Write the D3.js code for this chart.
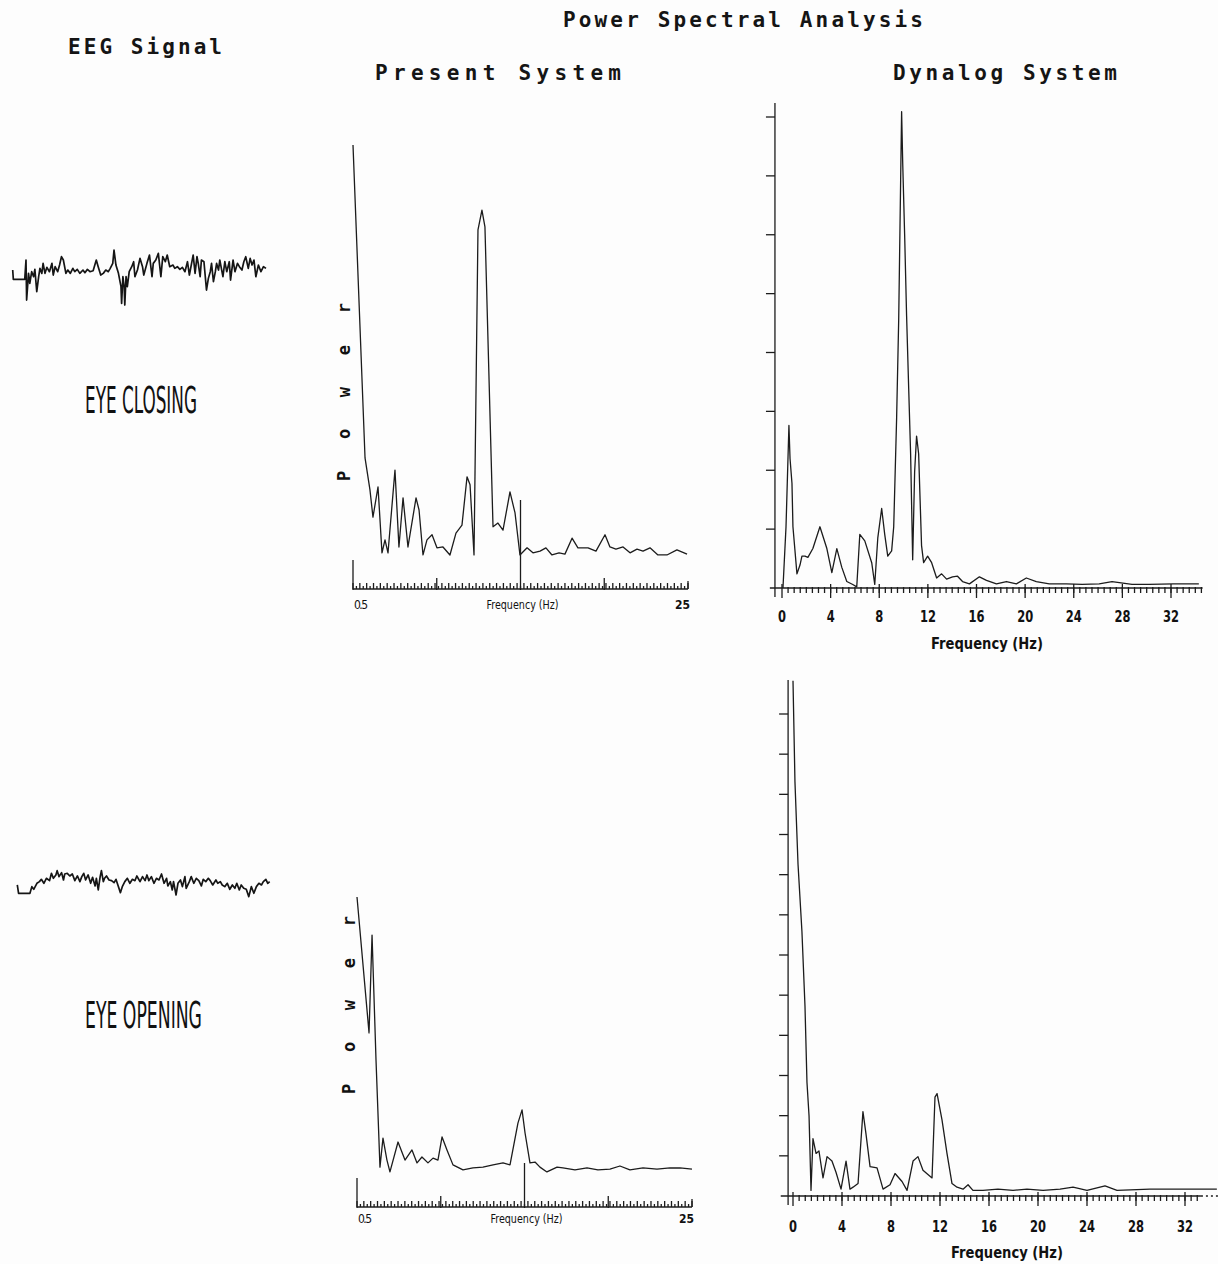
<!DOCTYPE html>
<html lang="en">
<head>
<meta charset="utf-8">
<script src="https://d3js.org/d3.v7.min.js"></script>
<style>
  body { margin: 0; background: #fff; }
  svg { display: block; background: #fdfdfd; }
  .curve { fill: none; stroke: #1c1c1c; stroke-width: 1.3; stroke-linejoin: round; }
  .eeg { fill: none; stroke: #151515; stroke-width: 1.7; stroke-linejoin: round; }
  .ax { stroke: #1c1c1c; stroke-width: 1.3; fill: none; }
  .title { font-family: "DejaVu Sans Mono", monospace; font-weight: bold; font-size: 21px; fill: #151515; }
  .state { font-family: "Liberation Sans Narrow", "DejaVu Sans Condensed", sans-serif; font-size: 38px; fill: #111; }
  .small { font-family: "Liberation Sans Narrow", "DejaVu Sans Condensed", sans-serif; font-size: 12px; fill: #111; }
  .dyn { font-family: "DejaVu Sans Condensed", "DejaVu Sans", sans-serif; font-weight: bold; font-size: 16px; fill: #111; }
  .ylab { font-family: "DejaVu Sans Mono", monospace; font-weight: bold; font-size: 17px; fill: #111; }
</style>
</head>
<body>
<svg id="fig" width="1218" height="1264"></svg>
<script>
// ---- data ----
// EEG traces: [time (s), amplitude (arbitrary units)]
const eegClosed = [[0,5],[0.01,-23],[0.09,-23],[0.19,-23],[0.21,35],[0.22,-85],[0.25,-5],[0.27,-35],[0.30,0],[0.33,-15],[0.35,7],[0.38,-60],[0.41,-15],[0.43,10],[0.46,-5],[0.48,25],[0.51,-5],[0.54,13],[0.58,0],[0.62,25],[0.64,-10],[0.67,15],[0.71,0],[0.74,20],[0.77,45],[0.80,35],[0.84,-5],[0.87,5],[0.91,-5],[0.95,10],[0.98,0],[1.02,7],[1.06,-5],[1.11,5],[1.14,-3],[1.18,7],[1.22,0],[1.27,3],[1.32,35],[1.35,15],[1.39,-10],[1.43,-5],[1.47,5],[1.51,0],[1.54,10],[1.58,25],[1.60,65],[1.63,20],[1.67,-5],[1.71,-45],[1.72,-95],[1.74,-15],[1.76,-45],[1.77,-100],[1.79,-15],[1.81,-45],[1.84,0],[1.88,15],[1.91,30],[1.93,-15],[1.97,5],[2.01,40],[2.05,15],[2.07,-10],[2.12,25],[2.16,50],[2.20,-15],[2.22,25],[2.26,35],[2.30,55],[2.34,-15],[2.37,45],[2.41,30],[2.44,50],[2.48,15],[2.53,20],[2.56,10],[2.60,15],[2.64,7],[2.68,13],[2.72,0],[2.76,30],[2.79,-10],[2.83,30],[2.85,50],[2.88,-5],[2.91,45],[2.93,25],[2.96,-15],[2.98,35],[3.02,30],[3.06,-55],[3.09,-20],[3.12,0],[3.14,25],[3.17,-30],[3.20,0],[3.22,25],[3.25,5],[3.27,35],[3.32,-15],[3.35,30],[3.38,0],[3.42,30],[3.44,-25],[3.48,35],[3.51,0],[3.55,25],[3.58,15],[3.62,5],[3.65,30],[3.68,45],[3.72,10],[3.75,40],[3.78,20],[3.81,35],[3.84,-15],[3.88,20],[3.92,0],[3.96,15],[4.00,10]];

const eegOpen = [[0,-5],[0.02,-30],[0.12,-30],[0.20,-30],[0.23,-10],[0.26,-18],[0.31,0],[0.35,5],[0.38,12],[0.42,0],[0.46,15],[0.51,8],[0.54,30],[0.57,15],[0.61,25],[0.63,38],[0.66,20],[0.70,32],[0.73,10],[0.75,28],[0.79,30],[0.83,22],[0.87,28],[0.91,8],[0.95,22],[0.99,5],[1.02,20],[1.05,30],[1.08,10],[1.12,25],[1.16,0],[1.19,18],[1.23,-8],[1.25,15],[1.28,-20],[1.31,20],[1.33,38],[1.36,5],[1.38,15],[1.41,22],[1.45,10],[1.49,8],[1.53,2],[1.56,12],[1.59,-5],[1.63,-28],[1.66,-10],[1.70,5],[1.74,15],[1.78,0],[1.82,12],[1.86,8],[1.89,22],[1.94,5],[1.98,20],[2.02,8],[2.05,25],[2.08,8],[2.12,20],[2.16,0],[2.20,15],[2.24,10],[2.28,28],[2.32,0],[2.36,15],[2.38,-8],[2.42,5],[2.45,-20],[2.47,5],[2.51,-35],[2.54,0],[2.58,10],[2.61,-10],[2.65,20],[2.67,-15],[2.72,5],[2.75,20],[2.79,0],[2.83,15],[2.87,8],[2.91,-8],[2.94,12],[2.98,5],[3.02,15],[3.05,8],[3.09,-5],[3.14,10],[3.17,0],[3.21,5],[3.24,-5],[3.28,-10],[3.32,0],[3.36,-18],[3.40,-5],[3.44,-15],[3.47,0],[3.51,-20],[3.54,-5],[3.58,-15],[3.62,-18],[3.66,-40],[3.70,-10],[3.74,-30],[3.78,-10],[3.82,0],[3.86,-5],[3.89,5],[3.93,12],[3.96,0],[3.99,5]];

// Present System spectra: [frequency (Hz), relative power (%)]
const presentClosed = [[0.5,98.8],[1.38,24.3],[1.74,16.7],[1.96,10.2],[2.33,17.4],[2.62,1.7],[2.84,4.8],[3.06,1.7],[3.57,21.4],[3.86,3.1],[4.16,14.8],[4.52,3.1],[5.11,14.8],[5.33,11.9],[5.62,1.2],[5.91,4.8],[6.28,6.0],[6.64,2.9],[7.08,3.1],[7.59,1.2],[8.03,6.4],[8.47,8.3],[8.84,19.8],[9.06,17.9],[9.35,1.2],[9.64,78.6],[9.93,83.3],[10.15,79.3],[10.74,7.9],[11.10,8.8],[11.47,7.1],[11.98,16.2],[12.35,11.2],[12.71,1.2],[13.23,2.9],[13.66,1.7],[14.18,2.1],[14.61,2.9],[15.05,1.2],[15.57,1.7],[16.0,1.4],[16.52,5.2],[16.95,2.9],[17.69,2.9],[18.27,2.1],[18.93,6.0],[19.29,3.1],[19.73,2.6],[20.25,3.1],[20.76,1.7],[21.27,2.6],[21.71,2.1],[22.22,2.9],[22.80,1.2],[23.46,1.2],[24.19,2.4],[24.93,1.4]];

const presentOpen = [[0.5,99.3],[1.38,51.1],[1.60,85.8],[1.89,41.5],[2.18,3.5],[2.40,13.8],[2.69,6.0],[2.91,1.8],[3.50,12.4],[4.01,6.0],[4.52,9.6],[4.89,5.0],[5.25,7.1],[5.69,5.0],[6.06,6.7],[6.42,6.0],[6.72,14.2],[7.08,9.6],[7.52,4.3],[8.25,2.5],[8.98,3.2],[9.71,3.5],[10.45,4.3],[11.18,5.0],[11.69,4.3],[12.27,19.1],[12.57,23.8],[12.79,15.6],[13.15,5.0],[13.52,5.3],[13.88,3.5],[14.39,1.8],[15.13,3.5],[15.56,3.2],[16.44,2.5],[17.32,3.2],[18.12,2.5],[19.00,2.8],[19.73,3.9],[20.46,2.5],[21.42,3.2],[22.44,2.8],[23.39,3.2],[24.12,3.2],[25.0,2.8]];

// Dynalog System spectra: [frequency (Hz), power (axis divisions)]
const dynalogClosed = [[0.08,0],[0.33,1.04],[0.57,2.76],[0.66,2.2],[0.82,1.78],[0.90,1.04],[1.23,0.24],[1.48,0.39],[1.64,0.54],[1.89,0.54],[2.13,0.52],[2.54,0.67],[3.12,1.04],[3.69,0.67],[4.10,0.26],[4.51,0.67],[4.92,0.35],[5.33,0.11],[5.82,0.06],[6.15,0.02],[6.40,0.91],[6.81,0.80],[7.38,0.43],[7.63,0.06],[7.88,0.85],[8.20,1.35],[8.45,0.91],[8.70,0.54],[9.02,0.63],[9.19,1.04],[9.43,2.89],[9.60,4.56],[9.76,6.92],[9.84,8.09],[9.93,7.22],[10.09,5.99],[10.25,4.62],[10.42,3.40],[10.58,2.28],[10.75,0.48],[10.91,1.97],[11.07,2.58],[11.24,2.28],[11.48,0.72],[11.65,0.43],[11.98,0.54],[12.31,0.43],[12.72,0.17],[13.13,0.24],[13.54,0.15],[14.03,0.19],[14.44,0.20],[14.85,0.11],[15.42,0.07],[16.24,0.19],[16.82,0.13],[17.64,0.07],[18.46,0.11],[19.28,0.07],[20.10,0.17],[20.92,0.11],[21.99,0.07],[23.38,0.07],[24.69,0.06],[26.09,0.07],[27.15,0.11],[28.79,0.06],[30.19,0.06],[32.2,0.07],[34.29,0.07]];

const dynalogOpen = [[0,12.83],[0.16,10.31],[0.41,8.26],[0.73,6.58],[0.98,4.71],[1.14,2.83],[1.31,1.99],[1.47,0.14],[1.63,1.43],[1.88,1.06],[2.12,1.12],[2.45,0.45],[2.78,0.98],[3.18,0.87],[3.51,0.59],[3.92,0.17],[4.33,0.87],[4.65,0.17],[4.90,0.22],[5.31,0.31],[5.71,2.10],[5.96,1.54],[6.29,0.73],[6.86,0.70],[7.35,0.17],[7.92,0.28],[8.33,0.56],[8.90,0.36],[9.31,0.14],[9.80,0.87],[10.20,0.98],[10.61,0.64],[11.35,0.45],[11.59,2.46],[11.76,2.55],[12.16,1.90],[12.57,1.06],[12.98,0.31],[13.39,0.22],[13.88,0.17],[14.29,0.28],[14.69,0.14],[15.51,0.14],[16.73,0.17],[17.96,0.14],[19.10,0.17],[20.41,0.14],[21.80,0.17],[22.86,0.22],[24.0,0.14],[25.47,0.25],[26.45,0.14],[29.14,0.17],[31.84,0.17],[34.6,0.17]];

// tick values / labels
const presentMajor = [6.625, 12.75, 18.875];
const presentLabels = ["0.5", "Frequency (Hz)", "25"];
const dynalogTickLabels = [0, 4, 8, 12, 16, 20, 24, 28, 32];
const dynalogYTicksClosed = [1, 2, 3, 4, 5, 6, 7, 8];
const dynalogYTicksOpen = [1, 2, 3, 4, 5, 6, 7, 8, 9, 10, 11, 12];

const svg = d3.select("#fig");
const line = (x, y) => d3.line().x(d => x(d[0])).y(d => y(d[1]));

// ---- titles ----
function label(txt, x, y, cls, len, anchor, adj) {
  const t = svg.append("text").attr("class", cls).attr("x", x).attr("y", y)
    .attr("text-anchor", anchor || "start").text(txt);
  if (len) t.attr("textLength", len).attr("lengthAdjust", adj || "spacing");
  return t;
}
label("Power Spectral Analysis", 563, 27, "title", 360);
label("EEG Signal", 68, 54, "title", 154);
label("Present System", 375, 80, "title", 246);
label("Dynalog System", 893, 80, "title", 224);

// ---- EEG traces ----
function eeg(data, x0, x1, yMid, amp) {
  const x = d3.scaleLinear().domain([0, 4]).range([x0, x1]);
  const y = d3.scaleLinear().domain([-amp, amp]).range([yMid + amp / 3, yMid - amp / 3]);
  svg.append("path").attr("class", "eeg").attr("d", line(x, y)(data));
}
eeg(eegClosed, 12.7, 266, 271.7, 100);
eeg(eegOpen, 17.3, 270.3, 883.3, 40);

label("EYE CLOSING", 85, 413, "state", 112, "start", "spacingAndGlyphs");
label("EYE OPENING", 85, 1028, "state", 117, "start", "spacingAndGlyphs");

// ---- Present System panels ----
function present(data, x0, x1, yZero, yTop, axisY, midTop, labY, yLabX, yLabY) {
  const x = d3.scaleLinear().domain([0.5, 25]).range([x0, x1]);
  const y = d3.scaleLinear().domain([0, 100]).range([yZero, yTop]);
  const g = svg.append("g");
  // baseline + ticks
  g.append("line").attr("class", "ax").attr("x1", x(0.5)).attr("x2", x(25))
    .attr("y1", axisY).attr("y2", axisY).attr("stroke-width", 0.8);
  g.selectAll(".mt").data(d3.range(0.5, 25.01, 0.25)).join("line").attr("class", "ax")
    .attr("stroke-width", 1)
    .attr("x1", d => x(d)).attr("x2", d => x(d))
    .attr("y1", (d, i) => axisY - (i % 2 ? 3 : 6)).attr("y2", axisY);
  g.selectAll(".Mt").data(presentMajor).join("line").attr("class", "ax")
    .attr("x1", d => x(d)).attr("x2", d => x(d))
    .attr("y1", (d, i) => i === 1 ? midTop : axisY - 11).attr("y2", axisY + 1);
  // left stub and right end mark
  g.append("line").attr("class", "ax").attr("x1", x(0.5)).attr("x2", x(0.5))
    .attr("y1", axisY - 29).attr("y2", axisY + 1);
  g.append("line").attr("class", "ax").attr("x1", x(25)).attr("x2", x(25))
    .attr("y1", axisY - 8).attr("y2", axisY);
  g.append("path").attr("class", "curve").attr("d", line(x, y)(data));
  label(presentLabels[0], x(0.5) + 1, labY, "small", 14);
  label(presentLabels[1], (x(0.5) + x(25)) / 2 + 2, labY, "small", 72, "middle", "spacingAndGlyphs");
  label(presentLabels[2], x(25) + 2, labY, "small", null, "end").attr("font-weight", "bold");
  svg.append("text").attr("class", "ylab")
    .attr("transform", `translate(${yLabX},${yLabY}) rotate(-90)`)
    .attr("text-anchor", "middle").attr("textLength", 178).attr("lengthAdjust", "spacing")
    .text("Power");
}
present(presentClosed, 353, 688, 560, 140, 589, 500, 609, 350, 392);
present(presentOpen, 357, 692, 1177, 895, 1207, 1163, 1223, 355, 1005);

// ---- Dynalog System panels ----
function dynalog(data, x0, x32, yZero, yTop, nTicks, yTicks, axX, axTop, labY, freqX, freqY, dotted) {
  const x = d3.scaleLinear().domain([0, 32]).range([x0, x32]);
  const y = d3.scaleLinear().domain([0, nTicks]).range([yZero, yTop]);
  const g = svg.append("g");
  const xEnd = dotted ? 33.3 : 34.6;
  g.append("line").attr("class", "ax").attr("x1", x(-1)).attr("x2", x(xEnd))
    .attr("y1", yZero).attr("y2", yZero);
  if (dotted) {
    g.append("line").attr("class", "ax").attr("x1", x(33.3)).attr("x2", x(34.9))
      .attr("y1", yZero).attr("y2", yZero).attr("stroke-dasharray", "2,3").attr("stroke-width", 2);
  }
  g.selectAll(".mt").data(d3.range(0.5, xEnd, 0.5)).join("line").attr("class", "ax")
    .attr("stroke-width", 1.1)
    .attr("x1", d => x(d)).attr("x2", d => x(d))
    .attr("y1", yZero - 1).attr("y2", yZero + 5);
  g.selectAll(".Mt").data(dynalogTickLabels).join("line").attr("class", "ax")
    .attr("x1", d => x(d)).attr("x2", d => x(d))
    .attr("y1", yZero - 4).attr("y2", yZero + 10);
  // y axis
  g.append("line").attr("class", "ax").attr("x1", x(axX)).attr("x2", x(axX))
    .attr("y1", axTop).attr("y2", yZero + 9);
  g.selectAll(".yt").data(yTicks).join("line").attr("class", "ax")
    .attr("x1", x(axX) - 9).attr("x2", x(axX))
    .attr("y1", d => y(d)).attr("y2", d => y(d));
  g.append("path").attr("class", "curve").attr("d", line(x, y)(data));
  g.selectAll(".tl").data(dynalogTickLabels).join("text").attr("class", "dyn")
    .attr("x", d => x(d)).attr("y", labY).attr("text-anchor", "middle")
    .attr("textLength", d => String(d).length * 8).attr("lengthAdjust", "spacingAndGlyphs")
    .text(d => d);
  label("Frequency (Hz)", freqX, freqY, "dyn", 112, "middle", "spacingAndGlyphs");
}
dynalog(dynalogClosed, 782, 1171, 588, 117, 8, dynalogYTicksClosed, -0.58, 103, 622, 987, 649, false);
dynalog(dynalogOpen, 793, 1185, 1196, 714, 12, dynalogYTicksOpen, -0.4, 680, 1232, 1007, 1258, true);
</script>
</body>
</html>
